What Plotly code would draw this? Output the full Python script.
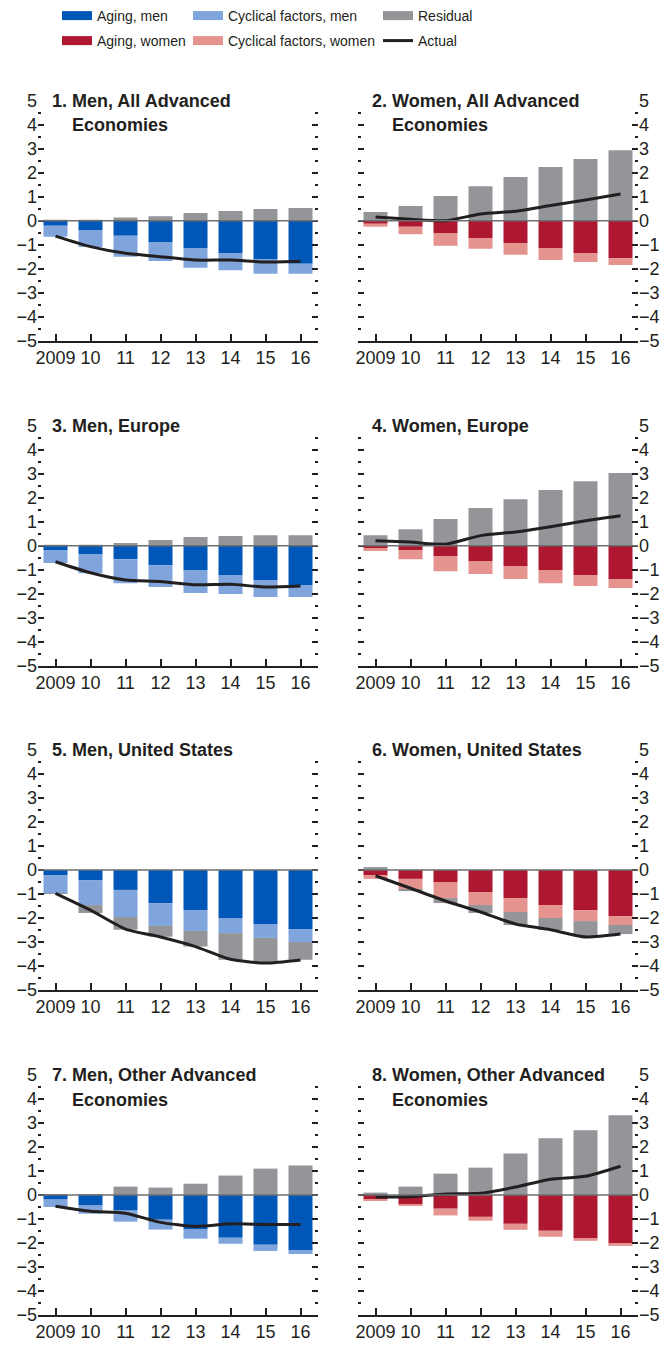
import plotly.graph_objects as go

years = ["2009", "10", "11", "12", "13", "14", "15", "16"]

titles = [
    ("1. Men, All Advanced", "Economies"),
    ("2. Women, All Advanced", "Economies"),
    ("3. Men, Europe", None),
    ("4. Women, Europe", None),
    ("5. Men, United States", None),
    ("6. Women, United States", None),
    ("7. Men, Other Advanced", "Economies"),
    ("8. Women, Other Advanced", "Economies"),
]

# Panel 1: Men, All Advanced Economies
p1_aging = [-0.21, -0.39, -0.63, -0.89, -1.14, -1.35, -1.60, -1.79]
p1_cyc = [-0.46, -0.71, -0.87, -0.79, -0.82, -0.71, -0.61, -0.42]
p1_res = [0.02, 0.02, 0.13, 0.19, 0.32, 0.40, 0.49, 0.53]
p1_actual = [-0.64, -1.08, -1.36, -1.50, -1.64, -1.64, -1.72, -1.69]

# Panel 2: Women, All Advanced Economies
p2_aging = [-0.13, -0.25, -0.51, -0.72, -0.93, -1.14, -1.35, -1.56]
p2_cyc = [-0.12, -0.31, -0.53, -0.45, -0.49, -0.50, -0.37, -0.29]
p2_res = [0.36, 0.61, 1.03, 1.44, 1.82, 2.24, 2.57, 2.94]
p2_actual = [0.15, 0.06, 0.00, 0.28, 0.39, 0.63, 0.86, 1.11]

# Panel 3: Men, Europe
p3_aging = [-0.18, -0.35, -0.56, -0.81, -1.01, -1.22, -1.43, -1.64]
p3_cyc = [-0.54, -0.80, -1.00, -0.91, -0.96, -0.79, -0.71, -0.50]
p3_res = [0.02, 0.02, 0.11, 0.24, 0.36, 0.40, 0.44, 0.44]
p3_actual = [-0.67, -1.13, -1.43, -1.49, -1.63, -1.61, -1.72, -1.68]

# Panel 4: Women, Europe
p4_aging = [-0.10, -0.18, -0.43, -0.64, -0.85, -1.01, -1.22, -1.39]
p4_cyc = [-0.12, -0.38, -0.63, -0.54, -0.54, -0.55, -0.46, -0.37]
p4_res = [0.44, 0.69, 1.11, 1.57, 1.94, 2.32, 2.69, 3.03]
p4_actual = [0.21, 0.15, 0.06, 0.42, 0.57, 0.79, 1.04, 1.25]

# Panel 5: Men, United States
p5_aging = [-0.21, -0.42, -0.83, -1.38, -1.67, -2.00, -2.25, -2.46]
p5_cyc = [-0.76, -1.04, -1.13, -0.95, -0.87, -0.63, -0.58, -0.54]
p5_res = [-0.03, -0.33, -0.53, -0.45, -0.65, -1.11, -1.05, -0.74]
p5_actual = [-0.97, -1.67, -2.46, -2.79, -3.19, -3.72, -3.88, -3.75]

# Panel 6: Women, United States
p6_aging = [-0.21, -0.37, -0.50, -0.92, -1.17, -1.46, -1.67, -1.92]
p6_cyc = [-0.16, -0.42, -0.67, -0.54, -0.58, -0.54, -0.46, -0.37]
p6_res = [0.12, -0.09, -0.21, -0.33, -0.54, -0.50, -0.66, -0.38]
p6_actual = [-0.24, -0.76, -1.29, -1.75, -2.25, -2.49, -2.79, -2.67]

# Panel 7: Men, Other Advanced Economies
p7_aging = [-0.19, -0.44, -0.65, -1.03, -1.44, -1.78, -2.07, -2.29]
p7_cyc = [-0.31, -0.34, -0.46, -0.41, -0.38, -0.25, -0.26, -0.17]
p7_res = [0.02, 0.04, 0.35, 0.31, 0.47, 0.81, 1.10, 1.23]
p7_actual = [-0.47, -0.68, -0.76, -1.14, -1.31, -1.20, -1.23, -1.23]

# Panel 8: Women, Other Advanced Economies
p8_aging = [-0.18, -0.38, -0.57, -0.91, -1.20, -1.49, -1.79, -2.04]
p8_cyc = [-0.06, -0.06, -0.28, -0.16, -0.25, -0.25, -0.12, -0.08]
p8_res = [0.10, 0.35, 0.89, 1.14, 1.73, 2.36, 2.70, 3.32]
p8_actual = [-0.08, -0.07, 0.04, 0.07, 0.33, 0.66, 0.78, 1.20]

panels = [
    (p1_aging, p1_cyc, p1_res, p1_actual),
    (p2_aging, p2_cyc, p2_res, p2_actual),
    (p3_aging, p3_cyc, p3_res, p3_actual),
    (p4_aging, p4_cyc, p4_res, p4_actual),
    (p5_aging, p5_cyc, p5_res, p5_actual),
    (p6_aging, p6_cyc, p6_res, p6_actual),
    (p7_aging, p7_cyc, p7_res, p7_actual),
    (p8_aging, p8_cyc, p8_res, p8_actual),
]

C_AGE_M = "#0057b8"
C_CYC_M = "#7fa5dc"
C_RES = "#939598"
C_AGE_W = "#ae1730"
C_CYC_W = "#e4938e"
C_ACT = "#231f20"
TXT = "#231f20"
FONT = "Liberation Sans, Arial, sans-serif"
TITLE_SIZE = 18
TICK_SIZE = 18
LEG_SIZE = 14

W, H = 666, 1345
col_px = [(38, 318), (358, 638)]
row_px = [(100.7, 340.7), (425.7, 665.7), (750, 990), (1075, 1315)]

fig = go.Figure()
layout = dict(
    width=W, height=H, margin=dict(l=0, r=0, t=0, b=0, autoexpand=False),
    paper_bgcolor="white", plot_bgcolor="white",
    barmode="relative", bargap=0.314,
    font=dict(family=FONT, size=TICK_SIZE, color=TXT),
    showlegend=True,
)
annotations = []
shapes = []

for i, (aging, cyc, res, actual) in enumerate(panels):
    r, c = divmod(i, 2)
    n = i + 1
    xa = "x" if n == 1 else f"x{n}"
    ya = "y" if n == 1 else f"y{n}"
    women = (c == 1)
    ca = C_AGE_W if women else C_AGE_M
    cc = C_CYC_W if women else C_CYC_M
    fig.add_trace(go.Bar(x=years, y=aging, marker=dict(color=ca, line=dict(width=0)),
                         xaxis=xa, yaxis=ya, showlegend=False,
                         name="Aging, women" if women else "Aging, men"))
    fig.add_trace(go.Bar(x=years, y=cyc, marker=dict(color=cc, line=dict(width=0)),
                         xaxis=xa, yaxis=ya, showlegend=False,
                         name="Cyclical factors, women" if women else "Cyclical factors, men"))
    fig.add_trace(go.Bar(x=years, y=res, marker=dict(color=C_RES, line=dict(width=0)),
                         xaxis=xa, yaxis=ya, showlegend=False, name="Residual"))
    fig.add_trace(go.Scatter(x=years, y=actual, mode="lines",
                             line=dict(color=C_ACT, width=3, shape="spline", smoothing=0.6),
                             xaxis=xa, yaxis=ya, showlegend=False, name="Actual"))

    l, rr = col_px[c]
    t, b = row_px[r]
    xkey = "xaxis" if n == 1 else f"xaxis{n}"
    ykey = "yaxis" if n == 1 else f"yaxis{n}"
    layout[xkey] = dict(
        domain=[l / W, rr / W], anchor=ya, type="category", range=[-0.5, 7.5],
        showline=True, linecolor=TXT, linewidth=1.5,
        ticks="inside", ticklen=7, tickwidth=1.5, tickcolor=TXT, tickangle=0,
        showgrid=False, zeroline=False, fixedrange=True,
        tickfont=dict(family=FONT, size=TICK_SIZE, color=TXT),
    )
    layout[ykey] = dict(
        domain=[1 - b / H, 1 - t / H], anchor=xa, range=[-5, 5],
        tick0=0, dtick=1, side="right" if women else "left",
        showline=False, mirror="ticks",
        ticks="inside", ticklen=6, tickwidth=1.5, tickcolor=TXT,
        minor=dict(dtick=0.5, ticks="inside", ticklen=3, tickwidth=1.5, tickcolor=TXT),
        showgrid=False, zeroline=False, fixedrange=True,
        tickfont=dict(family=FONT, size=TICK_SIZE, color=TXT),
    )
    shapes.append(dict(type="line", xref=f"{xa} domain", yref=ya, x0=0, x1=1, y0=0, y1=0,
                       line=dict(color="#6d6e71", width=1.5), layer="above"))
    t1, t2 = titles[i]
    annotations.append(dict(text=f"<b>{t1}</b>", xref="paper", yref="paper",
                            x=(l + 12) / W, y=1 - t / H, xanchor="left", yanchor="middle",
                            showarrow=False, font=dict(family=FONT, size=TITLE_SIZE, color=TXT)))
    if t2:
        annotations.append(dict(text=f"<b>{t2}</b>", xref="paper", yref="paper",
                                x=(l + 32) / W, y=1 - (t + 24.5) / H, xanchor="left", yanchor="middle",
                                showarrow=False, font=dict(family=FONT, size=TITLE_SIZE, color=TXT)))

# Legend: one legend per entry so that positions match the reference
legend_items = [
    ("Aging, men", C_AGE_M, 9, 62, 16),
    ("Aging, women", C_AGE_W, 9, 62, 41),
    ("Cyclical factors, men", C_CYC_M, 9, 193, 16),
    ("Cyclical factors, women", C_CYC_W, 9, 193, 41),
    ("Residual", C_RES, 9, 383, 16),
    ("Actual", C_ACT, 3, 383, 41),
]
for k, (name, color, lw, lx, ly) in enumerate(legend_items):
    lg = "legend" if k == 0 else f"legend{k + 1}"
    fig.add_trace(go.Scatter(x=[None], y=[None], mode="lines", name=name,
                             line=dict(color=color, width=lw), legend=lg,
                             xaxis="x", yaxis="y", showlegend=True))
    layout[lg] = dict(x=(lx - 5) / W, y=1 - ly / H, xanchor="left", yanchor="middle",
                      orientation="v", bgcolor="rgba(0,0,0,0)", borderwidth=0,
                      itemwidth=30, font=dict(family=FONT, size=LEG_SIZE, color=TXT))

layout["annotations"] = annotations
layout["shapes"] = shapes
fig.update_layout(**layout)
fig.write_html("out.html", config={"displayModeBar": False},
               post_script="document.body.style.margin='0';")
